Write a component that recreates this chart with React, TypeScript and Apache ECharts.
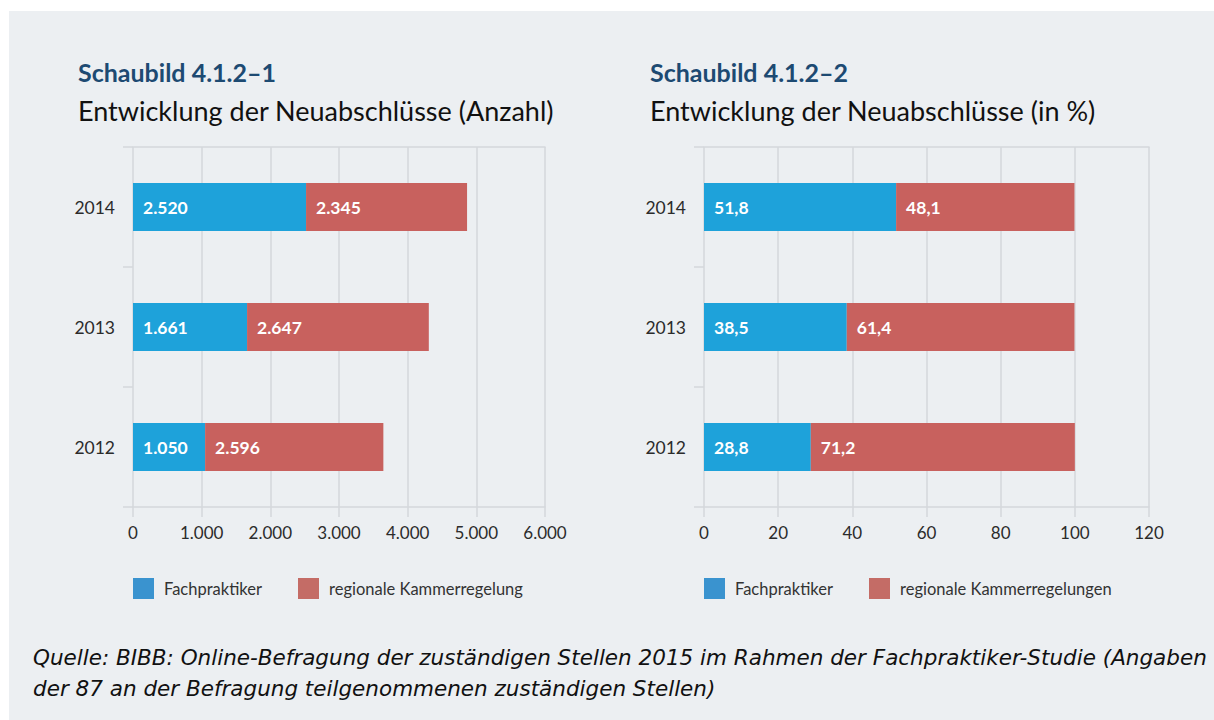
import React, { useEffect, useRef } from "react";
import * as echarts from "echarts";

const years = ["2012", "2013", "2014"];
const countFach = [1050, 1661, 2520];
const countKammer = [2596, 2647, 2345];
const pctFach = [28.8, 38.5, 51.8];
const pctKammer = [71.2, 61.4, 48.1];

const nameFach = "Fachpraktiker";
const nameKammer1 = "regionale Kammerregelung";
const nameKammer2 = "regionale Kammerregelungen";

const title1 = "Schaubild 4.1.2–1";
const subtitle1 = "Entwicklung der Neuabschlüsse (Anzahl)";
const title2 = "Schaubild 4.1.2–2";
const subtitle2 = "Entwicklung der Neuabschlüsse (in %)";
const footer1 =
  "Quelle: BIBB: Online-Befragung der zuständigen Stellen 2015 im Rahmen der Fachpraktiker-Studie (Angaben";
const footer2 = "der 87 an der Befragung teilgenommenen zuständigen Stellen)";

const FONT = "Lato, 'Noto Sans', sans-serif";
const BLUE = "#1ea2da";
const RED = "#c8615e";
const LEG_BLUE = "#3a93cf";
const LEG_RED = "#c46c66";
const GRIDC = "#d4d7db";
const TEXTC = "#2b2b2b";

const fmtDe = (n: number) =>
  String(Math.round(n)).replace(/\B(?=(\d{3})+(?!\d))/g, ".");
const fmtPct = (n: number) => n.toFixed(1).replace(".", ",");

function xAxisFor(gridIndex: number, max: number, interval: number, fmt: (n: number) => string) {
  return {
    type: "value",
    gridIndex,
    min: 0,
    max,
    interval,
    axisLine: { show: true, lineStyle: { color: GRIDC, width: 1.5 } },
    axisTick: { show: true, length: 10, lineStyle: { color: GRIDC, width: 1.5 } },
    splitLine: { show: true, lineStyle: { color: GRIDC, width: 1.5 } },
    axisLabel: {
      margin: 17,
      fontSize: 17,
      color: TEXTC,
      fontFamily: FONT,
      formatter: (v: number) => fmt(v),
    },
  };
}

function topAxisFor(gridIndex: number, max: number) {
  return {
    type: "value",
    gridIndex,
    position: "top",
    min: 0,
    max,
    axisLine: { show: true, lineStyle: { color: GRIDC, width: 1.5 } },
    axisTick: { show: false },
    splitLine: { show: false },
    axisLabel: { show: false },
  };
}

function yAxisFor(gridIndex: number) {
  return {
    type: "category",
    gridIndex,
    data: years,
    axisLine: { show: false },
    axisTick: { show: true, length: 10, interval: 0, lineStyle: { color: GRIDC, width: 1.5 } },
    splitLine: { show: false },
    axisLabel: { margin: 18, fontSize: 17.5, color: TEXTC, fontFamily: FONT },
  };
}

const labelStyle = (fmt: (n: number) => string) => ({
  show: true,
  position: "insideLeft",
  distance: 10,
  color: "#ffffff",
  fontWeight: "bold",
  fontSize: 17.5,
  fontFamily: FONT,
  formatter: (p: any) => fmt(p.value),
});

function legendFor(name: string, color: string, left: number) {
  return {
    show: true,
    left,
    top: 578,
    padding: 0,
    itemWidth: 21,
    itemHeight: 21,
    icon: "rect",
    selectedMode: false,
    data: [{ name, itemStyle: { color } }],
    textStyle: { fontSize: 16.5, color: "#333", fontFamily: FONT, padding: [0, 0, 0, 5] },
  };
}

export default function App() {
  const ref = useRef<HTMLDivElement>(null);
  useEffect(() => {
    if (!ref.current) return;
    const chart = echarts.init(ref.current, null, { renderer: "svg" });
    const titleStyle = {
      fontSize: 25,
      fontWeight: "bold",
      fill: "#1d4a72",
      fontFamily: FONT,
      verticalAlign: "middle",
    };
    const subStyle = {
      fontSize: 27,
      fill: "#111",
      fontFamily: FONT,
      verticalAlign: "middle",
    };
    const footStyle = {
      fontSize: 21.5,
      fontStyle: "italic",
      fill: "#111",
      fontFamily: "'DejaVu Sans', sans-serif",
      verticalAlign: "middle",
    };
    const option: any = {
      animation: false,
      backgroundColor: "#ffffff",
      graphic: [
        {
          type: "rect",
          z: -100,
          silent: true,
          shape: { x: 9, y: 11, width: 1205, height: 709 },
          style: { fill: "#eceff2" },
        },
        { type: "text", x: 78, y: 72, style: { ...titleStyle, text: title1 } },
        { type: "text", x: 78, y: 110, style: { ...subStyle, text: subtitle1 } },
        { type: "text", x: 650, y: 72, style: { ...titleStyle, text: title2 } },
        { type: "text", x: 650, y: 110, style: { ...subStyle, text: subtitle2 } },
        { type: "text", x: 33, y: 657, style: { ...footStyle, text: footer1 } },
        { type: "text", x: 33, y: 688, style: { ...footStyle, text: footer2 } },
      ],
      legend: [
        legendFor(nameFach, LEG_BLUE, 133),
        legendFor(nameKammer1, LEG_RED, 298),
        legendFor(nameFach, LEG_BLUE, 704),
        legendFor(nameKammer2, LEG_RED, 869),
      ],
      grid: [
        { left: 133, top: 147, width: 412, height: 360, containLabel: false },
        { left: 704, top: 147, width: 445, height: 360, containLabel: false },
      ],
      xAxis: [
        xAxisFor(0, 6000, 1000, fmtDe),
        xAxisFor(1, 120, 20, (v) => String(v)),
        topAxisFor(0, 6000),
        topAxisFor(1, 120),
      ],
      yAxis: [yAxisFor(0), yAxisFor(1)],
      series: [
        {
          type: "bar",
          name: nameFach,
          xAxisIndex: 0,
          yAxisIndex: 0,
          stack: "a",
          barWidth: "40%",
          data: countFach,
          itemStyle: { color: BLUE },
          label: labelStyle(fmtDe),
        },
        {
          type: "bar",
          name: nameKammer1,
          xAxisIndex: 0,
          yAxisIndex: 0,
          stack: "a",
          barWidth: "40%",
          data: countKammer,
          itemStyle: { color: RED },
          label: labelStyle(fmtDe),
        },
        {
          type: "bar",
          name: nameFach,
          xAxisIndex: 1,
          yAxisIndex: 1,
          stack: "b",
          barWidth: "40%",
          data: pctFach,
          itemStyle: { color: BLUE },
          label: labelStyle(fmtPct),
        },
        {
          type: "bar",
          name: nameKammer2,
          xAxisIndex: 1,
          yAxisIndex: 1,
          stack: "b",
          barWidth: "40%",
          data: pctKammer,
          itemStyle: { color: RED },
          label: labelStyle(fmtPct),
        },
      ],
    };
    chart.setOption(option);
    return () => chart.dispose();
  }, []);
  return (
    <div
      ref={ref}
      style={{ position: "absolute", left: 0, top: 0, width: 1214, height: 720 }}
    />
  );
}
